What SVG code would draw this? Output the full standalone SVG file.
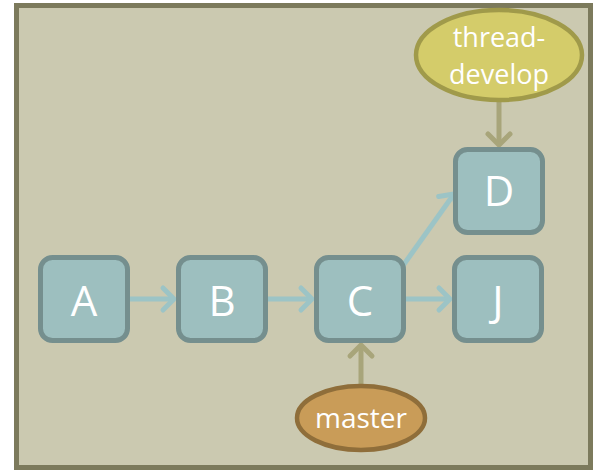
<svg xmlns="http://www.w3.org/2000/svg" width="596" height="473" viewBox="0 0 596 473">
  <style>
    .commit rect { fill: #9dbfbf; stroke: #758f8e; stroke-width: 5; }
    .commit text { fill: #ffffff; font-family: "Open Sans", "Noto Sans", sans-serif; font-size: 42px; text-anchor: middle; }
    .ref text { fill: #ffffff; font-family: "Open Sans", "Noto Sans", sans-serif; font-size: 28px; text-anchor: middle; }
    .ref text.two { font-size: 27px; }
    .link { fill: none; stroke: #9cc4c6; stroke-width: 5; }
    .ptr { fill: none; stroke: #a8a57a; stroke-width: 5; }
  </style>
  <defs>
    <marker id="headBlue" markerUnits="userSpaceOnUse" viewBox="-14 -14 16 28" refX="0" refY="0" markerWidth="16" markerHeight="28" orient="auto" overflow="visible">
      <path d="M -11 -11 L 0 0 L -11 11" fill="none" stroke="#9cc4c6" stroke-width="5" stroke-linecap="round" stroke-linejoin="round"/>
    </marker>
    <marker id="headOlive" markerUnits="userSpaceOnUse" viewBox="-14 -14 16 28" refX="0" refY="0" markerWidth="16" markerHeight="28" orient="auto" overflow="visible">
      <path d="M -11 -11 L 0 0 L -11 11" fill="none" stroke="#a8a57a" stroke-width="5" stroke-linecap="round" stroke-linejoin="round"/>
    </marker>
  </defs>

  <!-- frame -->
  <rect x="16.5" y="5.5" width="574" height="462" fill="#cbc9b0" stroke="#7c7a5c" stroke-width="5"/>

  <!-- connectors -->
  <g id="connectors">
    <line class="link" x1="130" y1="299" x2="174" y2="299" marker-end="url(#headBlue)"/>
    <line class="link" x1="268" y1="299" x2="312" y2="299" marker-end="url(#headBlue)"/>
    <line class="link" x1="406" y1="299" x2="450" y2="299" marker-end="url(#headBlue)"/>
    <line class="link" x1="402" y1="267" x2="454" y2="194" marker-end="url(#headBlue)"/>
    <line class="ptr" x1="499" y1="102" x2="499" y2="145" marker-end="url(#headOlive)"/>
    <line class="ptr" x1="361" y1="384" x2="361" y2="345" marker-end="url(#headOlive)"/>
  </g>

  <!-- commits -->
  <g id="node-A" class="commit">
    <rect x="40.5" y="257.5" width="87" height="83" rx="12"/>
    <text x="84" y="316">A</text>
  </g>
  <g id="node-B" class="commit">
    <rect x="178.5" y="257.5" width="87" height="83" rx="12"/>
    <text x="222" y="316">B</text>
  </g>
  <g id="node-C" class="commit">
    <rect x="316.5" y="257.5" width="87" height="83" rx="12"/>
    <text x="360" y="316">C</text>
  </g>
  <g id="node-J" class="commit">
    <rect x="454.5" y="257.5" width="87" height="83" rx="12"/>
    <text x="498" y="316">J</text>
  </g>
  <g id="node-D" class="commit">
    <rect x="455.5" y="149.5" width="87" height="83" rx="12"/>
    <text x="499" y="206">D</text>
  </g>

  <!-- branch refs -->
  <g id="ref-thread-develop" class="ref">
    <ellipse cx="499" cy="55" rx="83" ry="45" fill="#d4cc6a" stroke="#a09a4a" stroke-width="4.5"/>
    <text class="two" x="499" y="47">thread-</text>
    <text class="two" x="499" y="84">develop</text>
  </g>
  <g id="ref-master" class="ref">
    <ellipse cx="361" cy="418" rx="64" ry="32" fill="#c99c58" stroke="#8f6e3a" stroke-width="4.5"/>
    <text x="361" y="428">master</text>
  </g>
</svg>
